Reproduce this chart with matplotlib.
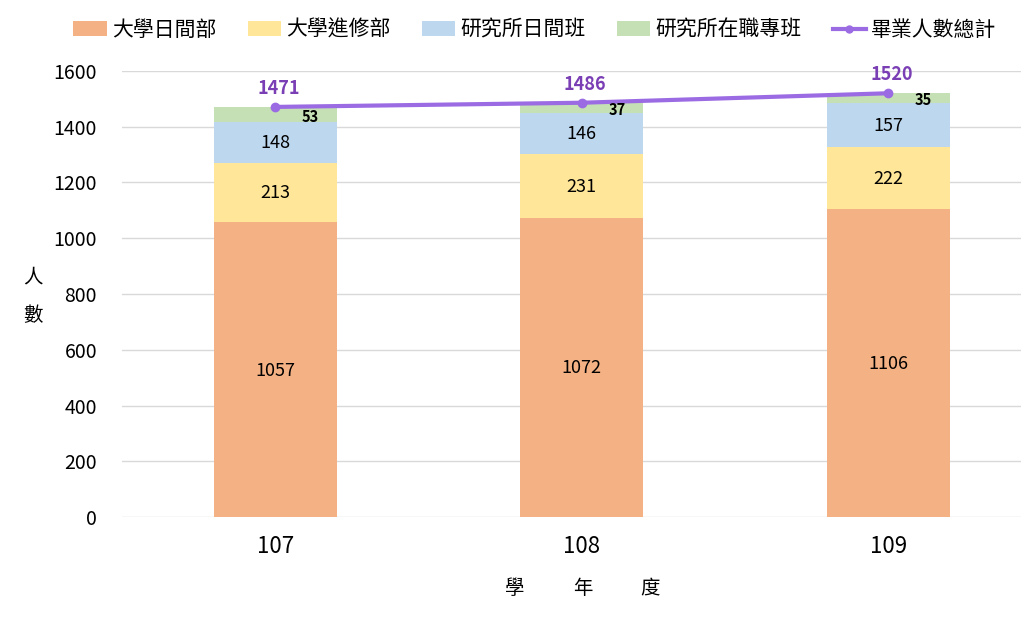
import numpy as np
import matplotlib.pyplot as plt
from matplotlib.lines import Line2D
from matplotlib.patches import Patch

plt.rcParams['font.family'] = ['Noto Sans CJK TC', 'DejaVu Sans']

years = ['107', '108', '109']
day_univ = [1057, 1072, 1106]
night_univ = [213, 231, 222]
grad_day = [148, 146, 157]
grad_work = [53, 37, 35]
totals = [1471, 1486, 1520]

series_names = ['大學日間部', '大學進修部', '研究所日間班', '研究所在職專班']
colors = ['#F4B183', '#FFE699', '#BDD7EE', '#C5E0B4']
line_color = '#9B6BE3'
total_color = '#7B3FB5'

fig = plt.figure(figsize=(10.21, 6.17), dpi=100)
ax = fig.add_axes([122 / 1021, 0.162, (1021 - 122) / 1021, 0.723])

x = np.arange(len(years))
width = 0.4
bottom = np.zeros(len(years))
all_series = [day_univ, night_univ, grad_day, grad_work]
for i, (vals, c) in enumerate(zip(all_series, colors)):
    vals = np.array(vals)
    ax.bar(x, vals, width, bottom=bottom, color=c, zorder=2)
    for xi, b, v in zip(x, bottom, vals):
        if i < 3:
            ax.text(xi, b + v / 2 - 3, str(v), ha='center', va='center',
                    fontsize=13, color='black', zorder=4)
        else:
            # 綠色小段的數字放右下
            ax.text(xi + 0.115, b + v / 2 - 8, str(v), ha='center', va='center',
                    fontsize=10.5, fontweight='bold', color='black', zorder=4)
    bottom += vals

ax.plot(x, totals, color=line_color, lw=3, marker='o', ms=6, zorder=3)
for xi, t in zip(x, totals):
    ax.text(xi + 0.01, t + 32, str(t), ha='center', va='bottom', fontsize=13,
            fontweight='bold', color=total_color, zorder=4)

ax.set_xlim(-0.5, 2 + (1021 - 888) / 307)
ax.set_ylim(0, 1600)
ax.set_yticks(range(0, 1601, 200))
ax.set_xticks(x)
ax.set_xticklabels(years, fontsize=16)
ax.tick_params(axis='y', labelsize=14, length=0, pad=18)
ax.tick_params(axis='x', length=0, pad=13)
ax.yaxis.grid(True, color='#D9D9D9', lw=1, zorder=0)
for s in ax.spines.values():
    s.set_visible(False)

fig.text(33 / 1021, 1 - 277 / 617, '人', fontsize=14, fontweight='medium', ha='center', va='center')
fig.text(33 / 1021, 1 - 316 / 617, '數', fontsize=14, fontweight='medium', ha='center', va='center')
for ch, px in zip(['學', '年', '度'], [515, 583, 650]):
    fig.text(px / 1021, 1 - 588 / 617, ch, fontsize=14, fontweight='medium',
             ha='center', va='center')

handles = [Patch(facecolor=c) for c in colors]
handles.append(Line2D([0], [0], color=line_color, lw=3, marker='o', ms=5))
fig.legend(handles, series_names + ['畢業人數總計'], loc='center',
           bbox_to_anchor=(535 / 1021, 1 - 30 / 617), ncol=5, frameon=False,
           prop={'size': 15, 'weight': 'medium'}, handlelength=1.6,
           handleheight=0.75, columnspacing=1.5, handletextpad=0.25)

fig.savefig('out.png', dpi=100)
